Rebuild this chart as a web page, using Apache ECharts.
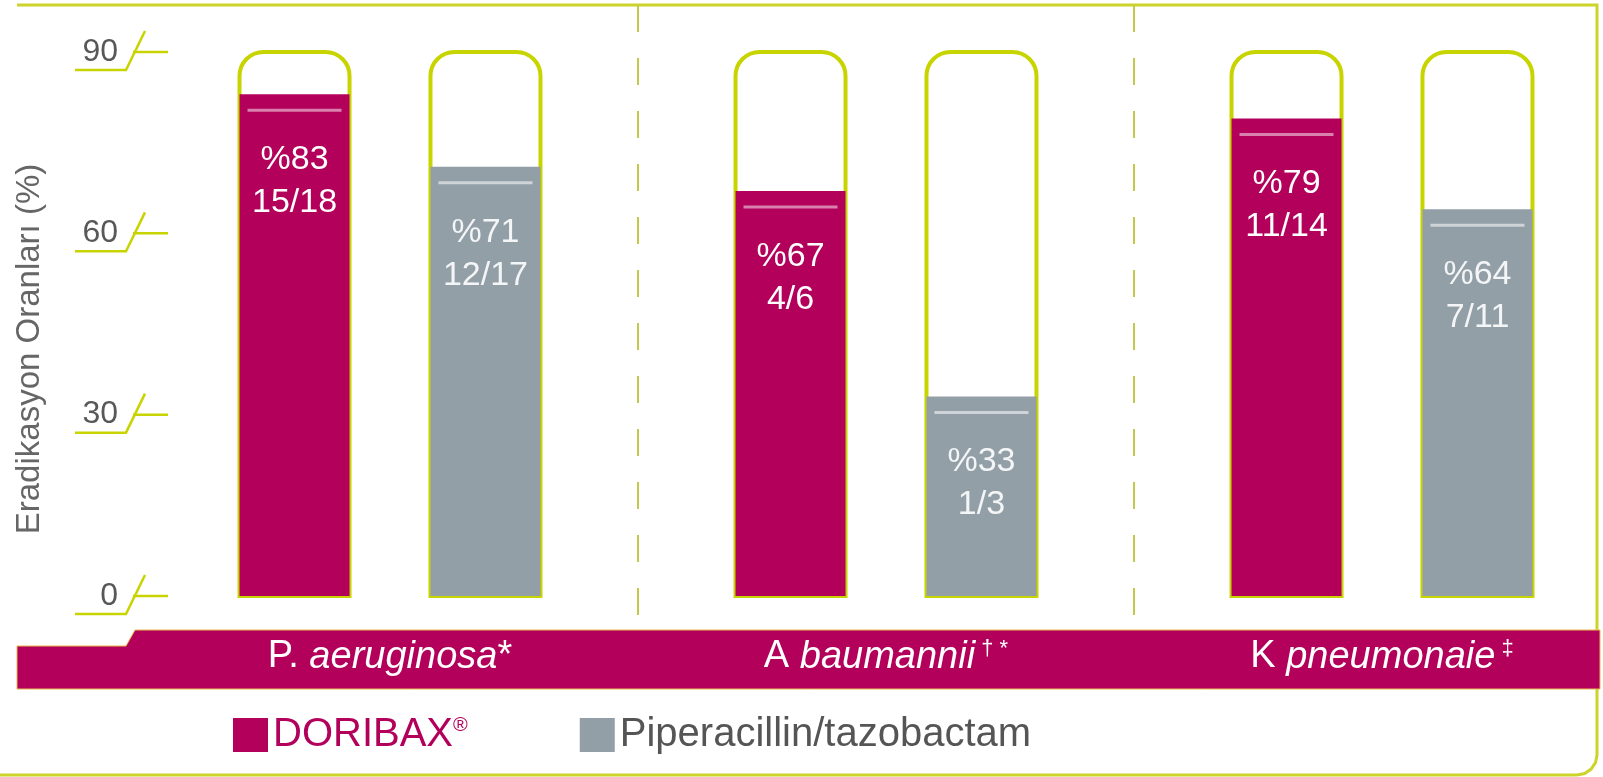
<!DOCTYPE html>
<html>
<head>
<meta charset="utf-8">
<script src="https://cdn.jsdelivr.net/npm/echarts@6/dist/echarts.min.js"></script>
<style>
html,body{margin:0;padding:0;background:#fff;}
#chart{width:1603px;height:777px;}
</style>
</head>
<body>
<div id="chart"></div>
<script>
// ---- data ----
const categoryPrefix = ['P. ', 'A ', 'K '];
const categoryItalic = ['aeruginosa', 'baumannii', 'pneumonaie'];
const categorySuffix = ['*', '', ''];
const categorySup = ['', ' † *', ' ‡'];
const seriesNames = ['DORIBAX®', 'Piperacillin/tazobactam'];
const doribaxPct = [83, 67, 79];
const doribaxRatio = ['15/18', '4/6', '11/14'];
const pipPct = [71, 33, 64];
const pipRatio = ['12/17', '1/3', '7/11'];
const yTicks = [0, 30, 60, 90];
const yAxisName = 'Eradikasyon Oranları (%)';

// ---- styles ----
const FONT = "'Liberation Sans', Arial, Helvetica, sans-serif";
const MAGENTA = '#b2005b';
const GREY = '#939fa7';
const LIME = '#c8d400';
const BAR_W = 110;
const BAR_GAP_PCT = 73.6;

const categories = categoryPrefix.map((p, i) => p + categoryItalic[i] + categorySuffix[i] + categorySup[i]);

function barSeries(name, pct, ratio, color, labelColor) {
  return {
    type: 'bar', name: name, data: pct,
    barWidth: BAR_W, barGap: BAR_GAP_PCT + '%',
    showBackground: true,
    backgroundStyle: { color: '#ffffff', borderColor: LIME, borderWidth: 4, borderRadius: [24, 24, 0, 0] },
    itemStyle: { color: color, borderWidth: 0 },
    label: {
      show: true, position: 'insideTop', distance: 44,
      formatter: p => '%' + pct[p.dataIndex] + '\n' + ratio[p.dataIndex],
      color: labelColor, fontSize: 34, lineHeight: 43, fontFamily: FONT
    },
    emphasis: { disabled: true },
    silent: true, z: 2
  };
}

function ruleSeries(pct, sign, color) {
  return {
    type: 'custom', silent: true, z: 3,
    data: pct.map((v, i) => [i, v]), encode: { x: 0, y: 1 },
    renderItem: (params, api) => {
      const c = api.coord([api.value(0), api.value(1)]);
      const x = c[0] + sign * (BAR_W * (1 + BAR_GAP_PCT / 100)) / 2;
      const y = c[1] + 16;
      return { type: 'line', shape: { x1: x - 47, y1: y, x2: x + 47, y2: y }, style: { stroke: color, lineWidth: 3 } };
    }
  };
}

const chart = echarts.init(document.getElementById('chart'), null, { renderer: 'canvas' });
chart.setOption({
  backgroundColor: '#ffffff',
  animation: false,
  textStyle: { fontFamily: FONT },
  grid: { left: 142, top: 52, width: 1488, bottom: 181, containLabel: false, outerBoundsMode: 'none' },
  legend: {
    data: seriesNames, left: 228, top: 710, itemWidth: 35, itemHeight: 34, itemGap: 112,
    icon: 'rect', selectedMode: false, itemStyle: { borderWidth: 0 },
    formatter: name => name === seriesNames[0]
      ? '{d|' + name.replace('®', '') + '}{r|®}'
      : '{p|' + name + '}',
    textStyle: {
      fontFamily: FONT,
      rich: {
        d: { color: MAGENTA, fontSize: 40, fontFamily: FONT },
        r: { color: MAGENTA, fontSize: 20, fontFamily: FONT, verticalAlign: 'top' },
        p: { color: '#555555', fontSize: 40, fontFamily: FONT }
      }
    }
  },
  xAxis: {
    type: 'category', data: categories, z: 10,
    axisLine: { show: false }, axisTick: { show: false }, splitLine: { show: false },
    axisLabel: {
      margin: 61, verticalAlign: 'middle', interval: 0,
      formatter: (v, i) => '{n|' + categoryPrefix[i] + '}{i|' + categoryItalic[i] + '}' +
        (categorySuffix[i] ? '{n|' + categorySuffix[i] + '}' : '') +
        (categorySup[i] ? '{s|' + categorySup[i] + '}' : ''),
      rich: {
        n: { color: '#fff', fontSize: 38, fontFamily: FONT },
        i: { color: '#fff', fontSize: 38, fontFamily: FONT, fontStyle: 'italic' },
        s: { color: '#fff', fontSize: 22, fontFamily: FONT, verticalAlign: 'top' }
      }
    }
  },
  yAxis: {
    type: 'value', min: 0, max: 90, interval: 30, z: 10,
    axisLine: { show: false }, axisTick: { show: false }, splitLine: { show: false },
    axisLabel: { margin: 24, fontSize: 32, color: '#585858', fontFamily: FONT, padding: [0, 0, 11, 0] },
    name: yAxisName, nameLocation: 'middle', nameRotate: 90, nameGap: 96,
    nameTextStyle: { fontSize: 33, color: '#666666', fontFamily: FONT, padding: [0, 50, 0, 0] }
  },
  graphic: [
    {
      type: 'polyline', z: 0, silent: true,
      shape: { points: [[17, 5], [1597, 5], [1597, 755], [1595.5, 762.7], [1591.1, 769.1], [1584.7, 773.5], [1577, 775], [0, 775]] },
      style: { stroke: '#cdd32a', lineWidth: 3, fill: null }
    },
    {
      type: 'polygon', z: 1, silent: true,
      shape: { points: [[17, 646], [126, 646], [135, 630], [1600, 630], [1600, 689], [17, 689]] },
      style: { fill: MAGENTA, stroke: '#e7b94c', lineWidth: 1 }
    }
  ],
  series: [
    barSeries(seriesNames[0], doribaxPct, doribaxRatio, MAGENTA, '#ffffff'),
    barSeries(seriesNames[1], pipPct, pipRatio, GREY, '#f3f5f6'),
    ruleSeries(doribaxPct, -1, 'rgba(255,255,255,0.5)'),
    ruleSeries(pipPct, 1, 'rgba(255,255,255,0.55)'),
    {
      type: 'custom', silent: true, z: 3,
      data: yTicks.map(v => [0, v]), encode: { x: 0, y: 1 },
      renderItem: (params, api) => {
        const y = api.coord([0, api.value(1)])[1];
        const x0 = params.coordSys.x;
        return {
          type: 'group', children: [
            { type: 'polyline', shape: { points: [[x0 - 67, y + 18], [x0 - 16, y + 18], [x0 + 3, y - 21]] }, style: { stroke: LIME, lineWidth: 2.5, fill: null } },
            { type: 'line', shape: { x1: x0 - 9, y1: y, x2: x0 + 26, y2: y }, style: { stroke: LIME, lineWidth: 2.5 } }
          ]
        };
      }
    },
    {
      type: 'custom', silent: true, z: 1,
      data: [[0, 0], [1, 0]], encode: { x: 0, y: 1 },
      renderItem: (params, api) => {
        const i = api.value(0);
        const x = (api.coord([i, 0])[0] + api.coord([i + 1, 0])[0]) / 2;
        const top = params.coordSys.y - 47;
        const bottom = params.coordSys.y + params.coordSys.height + 34;
        return { type: 'line', shape: { x1: x, y1: top, x2: x, y2: bottom }, style: { stroke: '#c3c94a', lineWidth: 2, lineDash: [27, 26] } };
      }
    }
  ]
});
</script>
</body>
</html>
